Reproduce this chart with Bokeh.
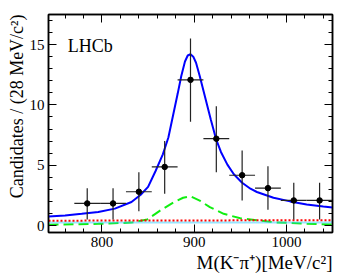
from bokeh.plotting import figure
from bokeh.models import Range1d, LinearAxis, SingleIntervalTicker, Label, Title
from bokeh.embed import file_html
from bokeh.resources import INLINE

# ---- data ----
mass = [784, 812, 840, 868, 896, 924, 952, 980, 1008, 1036]
counts = [1.83, 1.83, 2.8, 4.86, 12.08, 7.2, 4.17, 3.1, 2.08, 2.08]
err_up = [1.27, 1.27, 1.62, 2.14, 3.42, 2.7, 2.05, 1.82, 1.46, 1.46]
err_dn = [1.33, 1.33, 1.61, 2.23, 3.48, 2.78, 2.1, 1.8, 1.58, 1.58]
bin_half = 14

fit_m = [742, 760, 778, 796, 814, 832, 842, 850, 858, 866, 872, 877, 882, 886,
         890, 893, 896, 899, 902, 906, 912, 918, 924, 929, 936, 943, 952, 961,
         968, 986, 1004, 1022, 1040, 1050]
fit_y = [0.75, 0.83, 0.97, 1.12, 1.40, 1.95, 2.55, 3.2, 4.5, 5.9, 7.3, 9.1, 10.9, 12.4,
         13.6, 14.1, 14.2, 14.0, 13.5, 12.4, 10.6, 8.8, 7.1, 6.1, 5.05, 4.25, 3.55, 3.05,
         2.78, 2.3, 2.0, 1.75, 1.58, 1.49]

green_m = [742, 796, 832, 849, 863, 878, 888, 896, 906, 917, 932, 950, 961, 986, 1022, 1050]
green_y = [0.06, 0.14, 0.24, 0.5, 1.24, 1.93, 2.3, 2.42, 2.07, 1.52, 0.97, 0.6, 0.5, 0.27, 0.14, 0.08]

red_m = [742, 1050]
red_y = [0.40, 0.44]

cyan_m = [742, 1050]
cyan_y = [0.24, 0.26]

x_ticks_interval = 100
y_ticks_interval = 5

FONT = "Liberation Serif"

p = figure(width=349, height=276, output_backend="svg", toolbar_location=None,
           x_range=Range1d(742, 1050), y_range=Range1d(-0.58, 17.5),
           min_border_left=48, min_border_right=17, min_border_top=14, min_border_bottom=44,
           x_axis_location=None, y_axis_location=None)
p.grid.visible = False
p.background_fill_color = "white"
p.border_fill_color = "white"
p.outline_line_color = "black"
p.outline_line_width = 1.5

def make_axis(interval, show_labels):
    ax = LinearAxis(ticker=SingleIntervalTicker(interval=interval, num_minor_ticks=5))
    ax.axis_line_color = "black"
    ax.axis_line_width = 1.5
    ax.major_tick_in = 8
    ax.major_tick_out = 0
    ax.minor_tick_in = 4
    ax.minor_tick_out = 0
    ax.major_tick_line_width = 1
    ax.minor_tick_line_width = 1
    ax.major_label_text_font = FONT
    ax.major_label_text_color = "black"
    if show_labels:
        ax.major_label_text_font_size = "15px"
        ax.major_label_standoff = 4
    else:
        ax.major_label_text_font_size = "0px"
        ax.major_label_standoff = 0
        ax.major_label_text_alpha = 0
    return ax

bottom = make_axis(x_ticks_interval, True)
bottom.major_label_standoff = 4
p.add_layout(bottom, "below")
left = make_axis(y_ticks_interval, True)
p.add_layout(left, "left")
p.add_layout(make_axis(x_ticks_interval, False), "above")
p.add_layout(make_axis(y_ticks_interval, False), "right")

# axis titles, right-aligned as in ROOT
xt = Title(text="M(K⁻π⁺)[MeV/c²]", align="right", text_font=FONT,
           text_font_size="19px", text_font_style="normal", text_color="black",
           standoff=0, offset=0)
p.add_layout(xt, "below")
yt = Title(text="Candidates / (28 MeV/c²)", align="right", text_font=FONT,
           text_font_size="18px", text_font_style="normal", text_color="black",
           standoff=0, offset=0)
p.add_layout(yt, "left")

# components
p.line(green_m, green_y, line_color="#11ee11", line_width=2, line_dash="10 5")
p.line(cyan_m, cyan_y, line_color="#33ccff", line_width=2, line_dash="1 1")
p.line(red_m, red_y, line_color="#ff0000", line_width=2, line_dash="2 2")
p.line(fit_m, fit_y, line_color="#0000ff", line_width=2)

# data points with error bars
x0 = [m - bin_half for m in mass]
x1 = [m + bin_half for m in mass]
lo = [c - d for c, d in zip(counts, err_dn)]
hi = [c + u for c, u in zip(counts, err_up)]
p.segment(x0=x0, y0=counts, x1=x1, y1=counts, line_color="#222222", line_width=1.2)
p.segment(x0=mass, y0=lo, x1=mass, y1=hi, line_color="#222222", line_width=1.2)
p.scatter(mass, counts, size=5.5, marker="circle", fill_color="black", line_color="black")

p.add_layout(Label(x=763, y=14.85, text="LHCb", text_font=FONT, text_font_size="18px",
                   text_color="black", text_baseline="alphabetic", text_align="left"))

open("out.html", "w").write(file_html(p, INLINE))
